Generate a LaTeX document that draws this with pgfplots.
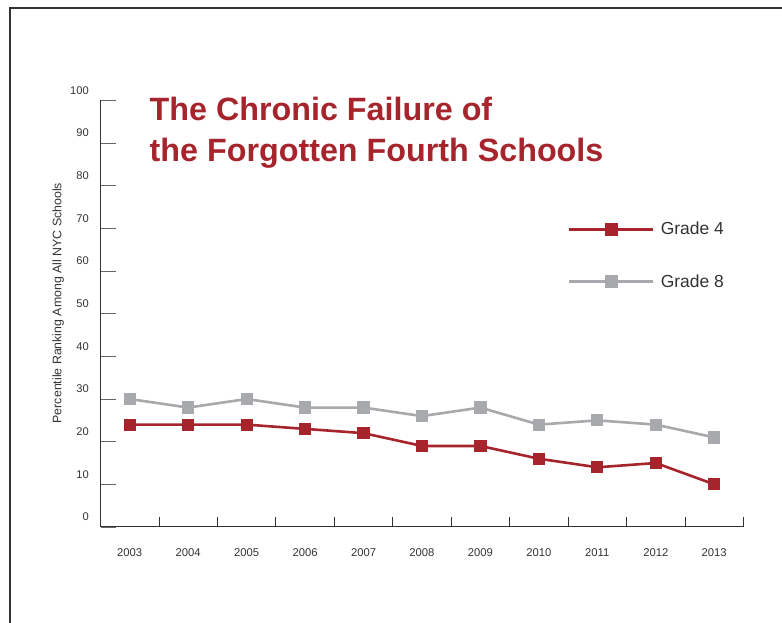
\documentclass[border=0pt]{standalone}
\usepackage{pgfplots}
\pgfplotsset{compat=1.18}
\usepackage{fontspec}
\setmainfont{Liberation Sans}
\definecolor{cred}{HTML}{A6242B}
\definecolor{cgray}{HTML}{A7A9AC}
\definecolor{ctxt}{HTML}{333333}
\begin{document}
\begin{tikzpicture}[x=1bp,y=1bp]
\useasboundingbox (0,0) rectangle (782,623);
\draw[line width=1.1bp, ctxt] (10,0) -- (10,615) -- (782,615);
\begin{axis}[
  at={(100.5bp,96bp)}, anchor=south west,
  scale only axis, width=643bp, height=426.5bp,
  xmin=2002.5, xmax=2013.5, ymin=0, ymax=100,
  axis x line*=bottom, axis y line*=left,
  axis line style={-, line width=1bp, ctxt},
  clip=false,
  tick align=inside,
  xtick={2003,...,2013},
  minor xtick={2003.5,2004.5,...,2013.5},
  major x tick style={draw=none},
  minor x tick style={line width=0.9bp, ctxt},
  minor tick length=10bp,
  ytick={0,10,...,100},
  y tick style={line width=0.9bp, black!60},
  major tick length=16bp,
  /pgf/number format/1000 sep={},
  /pgf/number format/assume math mode=true,
  xticklabel style={font=\fontsize{11.3}{13}\selectfont, text=ctxt, anchor=north, inner sep=0pt, yshift=-21bp},
  yticklabel style={font=\fontsize{11.2}{13}\selectfont, text=ctxt, anchor=east, inner sep=0pt, xshift=-11.5bp, yshift=10bp},
  ylabel={Percentile Ranking Among All NYC Schools},
  ylabel style={font=\fontsize{12.4}{14}\selectfont, text=ctxt, at={(axis description cs:-0.066,0.525)}, anchor=center, rotate=0},
  legend style={draw=none, fill=none, at={(axis description cs:0.727,0.6366)}, anchor=west, inner sep=0pt, font=\fontsize{17.5}{20}\selectfont, text=ctxt, row sep=38bp, nodes={inner sep=0pt}},
  legend cell align=left,
  /tikz/every odd column/.append style={column sep=6bp},
  legend image code/.code={\draw[mark repeat=2, mark phase=2] plot coordinates {(0bp,0bp) (42bp,0bp) (84bp,0bp)};},
]
\addplot[cred, line width=2.6bp, mark=square*, mark size=4.8bp, mark options={solid}] coordinates {
(2003,24) (2004,24) (2005,24) (2006,23) (2007,22) (2008,19) (2009,19) (2010,16) (2011,14) (2012,15) (2013,10)};
\addlegendentry{Grade 4}
\addplot[cgray, line width=2.6bp, mark=square*, mark size=4.8bp, mark options={solid}] coordinates {
(2003,30) (2004,28) (2005,30) (2006,28) (2007,28) (2008,26) (2009,28) (2010,24) (2011,25) (2012,24) (2013,21)};
\addlegendentry{Grade 8}
\end{axis}
\node[anchor=base west, inner sep=0pt, text=cred, font=\fontsize{32.4}{38}\selectfont\bfseries] at (149.5,502.3) {The Chronic Failure of};
\node[anchor=base west, inner sep=0pt, text=cred, font=\fontsize{32.4}{38}\selectfont\bfseries] at (149.5,461.3) {the Forgotten Fourth Schools};
\end{tikzpicture}
\end{document}
